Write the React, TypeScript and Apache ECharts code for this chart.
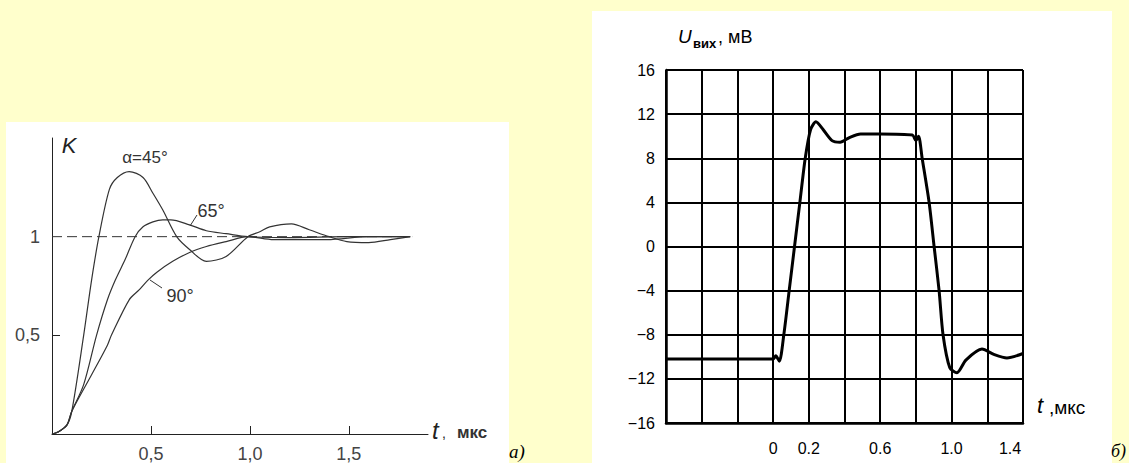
import React, { useEffect, useRef } from "react";
import * as echarts from "echarts";

// ---- Left chart (a): transient response K(t) for different angles ----
const t45 = [0, 0.03, 0.075, 0.1, 0.16, 0.2, 0.237, 0.29, 0.33, 0.39, 0.46, 0.51, 0.56, 0.63, 0.695, 0.78, 0.88, 0.99, 1.05, 1.1, 1.21, 1.3, 1.4, 1.49, 1.6, 1.71, 1.81];
const k45 = [0, 0.01, 0.045, 0.115, 0.5, 0.78, 1.0, 1.24, 1.3, 1.33, 1.3, 1.22, 1.135, 1.0, 0.935, 0.875, 0.9, 1.0, 1.025, 1.05, 1.065, 1.035, 1.0, 0.975, 0.97, 0.985, 1.0];
const t65 = [0, 0.03, 0.075, 0.1, 0.16, 0.225, 0.28, 0.32, 0.37, 0.42, 0.46, 0.51, 0.56, 0.6, 0.695, 0.78, 0.88, 0.99, 1.2, 1.5, 1.81];
const k65 = [0, 0.01, 0.045, 0.115, 0.25, 0.5, 0.68, 0.78, 0.885, 1.0, 1.05, 1.075, 1.085, 1.085, 1.06, 1.03, 1.015, 1.0, 0.995, 1.0, 1.0];
const t90 = [0, 0.03, 0.075, 0.1, 0.2, 0.28, 0.3, 0.39, 0.44, 0.485, 0.53, 0.61, 0.695, 0.78, 0.88, 0.99, 1.12, 1.39, 1.6, 1.81];
const k90 = [0, 0.01, 0.045, 0.115, 0.3, 0.45, 0.5, 0.68, 0.73, 0.78, 0.82, 0.875, 0.92, 0.95, 0.975, 1.0, 0.985, 0.985, 1.0, 1.0];
const leftXTickLabels = ["0,5", "1,0", "1,5"];
const leftYTickLabels = ["0,5", "1"];

// ---- Right chart (б): output voltage U(t) ----
const tOut = [-0.6, 0.0, 0.015, 0.035, 0.06, 0.09, 0.12, 0.15, 0.18, 0.21, 0.24, 0.28, 0.33, 0.375, 0.43, 0.49, 0.6, 0.78, 0.8, 0.815, 0.835, 0.874, 0.902, 0.93, 0.952, 0.99, 1.03, 1.08, 1.17, 1.24, 1.31, 1.4];
const uOut = [-10.2, -10.2, -9.9, -10.4, -8, -4, 0, 4, 8, 10.6, 11.3, 10.6, 9.6, 9.45, 9.9, 10.2, 10.2, 10.1, 9.6, 10.0, 8, 4, 0, -4, -8, -11, -11.45, -10.3, -9.3, -9.8, -10.1, -9.7];
const rightXTickLabels = ["0", "0.2", "0.6", "1.0", "1.4"];

const num = (s: string) => parseFloat(s.replace(",", "."));
const findLabel = (labels: string[], v: number) => {
  const l = labels.find((s) => Math.abs(num(s) - v) < 1e-6);
  return l ?? "";
};
const zip = (a: number[], b: number[]) => a.map((x, i) => [x, b[i]]);

export default function App() {
  const ref = useRef<HTMLDivElement>(null);
  useEffect(() => {
    if (!ref.current) return;
    const chart = echarts.init(ref.current, null, { renderer: "svg" });
    const sans = "Liberation Sans, Arial, sans-serif";
    chart.setOption({
      animation: false,
      backgroundColor: "#FFFFCC",
      grid: [
        { left: 52, top: 138, width: 376, height: 298, containLabel: false },
        { left: 666, top: 70, width: 357, height: 353, containLabel: false },
      ],
      xAxis: [
        {
          gridIndex: 0,
          type: "value",
          min: 0,
          max: 1.9,
          interval: 0.5,
          axisLine: { show: true, onZero: false, lineStyle: { color: "#222", width: 1 } },
          axisTick: { show: true, inside: true, length: 8, customValues: leftXTickLabels.map(num), lineStyle: { color: "#222" } },
          axisLabel: {
            customValues: leftXTickLabels.map(num),
            formatter: (v: number) => findLabel(leftXTickLabels, v),
            color: "#444",
            fontSize: 18,
            fontFamily: sans,
            margin: 11,
          },
          splitLine: { show: false },
        },
        {
          gridIndex: 1,
          type: "value",
          min: -0.6,
          max: 1.4,
          interval: 0.2,
          axisLine: { show: true, onZero: false, lineStyle: { color: "#000", width: 2.5 } },
          axisTick: { show: false },
          axisLabel: {
            customValues: rightXTickLabels.map(num),
            formatter: (v: number) => {
              const l = findLabel(rightXTickLabels, v);
              return l === "1.4" ? "{s|" + l + "}" : l;
            },
            rich: { s: { padding: [0, 26, 0, 0], fontSize: 16, color: "#000", fontFamily: sans } },
            color: "#000",
            fontSize: 16,
            fontFamily: sans,
            margin: 17,
          },
          splitLine: { show: true, lineStyle: { color: "#000", width: 2 } },
        },
      ],
      yAxis: [
        {
          gridIndex: 0,
          type: "value",
          min: 0,
          max: 1.5,
          interval: 0.5,
          axisLine: { show: true, onZero: false, lineStyle: { color: "#222", width: 1 } },
          axisTick: { show: true, inside: true, length: 8, customValues: [0.5], lineStyle: { color: "#222" } },
          axisLabel: {
            customValues: leftYTickLabels.map(num),
            formatter: (v: number) => findLabel(leftYTickLabels, v),
            color: "#444",
            fontSize: 18,
            fontFamily: sans,
            margin: 12,
          },
          splitLine: { show: false },
        },
        {
          gridIndex: 1,
          type: "value",
          min: -16,
          max: 16,
          interval: 4,
          axisLine: { show: true, onZero: false, lineStyle: { color: "#000", width: 2.5 } },
          axisTick: { show: false },
          axisLabel: {
            formatter: (v: number) => String(v).replace("-", "\u2212"),
            color: "#000",
            fontSize: 16,
            fontFamily: sans,
            margin: 11,
          },
          splitLine: { show: true, lineStyle: { color: "#000", width: 2 } },
        },
      ],
      series: [
        {
          type: "line",
          xAxisIndex: 0,
          yAxisIndex: 0,
          data: [[0, 1], [1.82, 1]],
          showSymbol: false,
          lineStyle: { color: "#333", width: 1, type: [10, 5] },
          z: 1,
        },
        {
          type: "line",
          xAxisIndex: 0,
          yAxisIndex: 0,
          data: zip(t45, k45),
          smooth: 0.3,
          showSymbol: false,
          lineStyle: { color: "#333", width: 1.2 },
        },
        {
          type: "line",
          xAxisIndex: 0,
          yAxisIndex: 0,
          data: zip(t65, k65),
          smooth: 0.3,
          showSymbol: false,
          lineStyle: { color: "#333", width: 1.2 },
        },
        {
          type: "line",
          xAxisIndex: 0,
          yAxisIndex: 0,
          data: zip(t90, k90),
          smooth: 0.3,
          showSymbol: false,
          lineStyle: { color: "#333", width: 1.2 },
        },
        {
          type: "line",
          xAxisIndex: 1,
          yAxisIndex: 1,
          data: zip(tOut, uOut),
          smooth: 0.25,
          showSymbol: false,
          lineStyle: { color: "#000", width: 3 },
          z: 5,
        },
      ],
      graphic: [
        { type: "rect", z: -10, shape: { x: 6, y: 122, width: 503, height: 341 }, style: { fill: "#fff" } },
        { type: "rect", z: -10, shape: { x: 592, y: 11, width: 520, height: 452 }, style: { fill: "#fff" } },
        // left annotations
        { type: "text", x: 69, y: 145, style: { text: "K", font: "italic 22px " + sans, fill: "#222", textAlign: "center", textVerticalAlign: "middle" } },
        { type: "text", x: 145, y: 157, style: { text: "\u03b1=45\u00b0", font: "17px " + sans, fill: "#333", textAlign: "center", textVerticalAlign: "middle" } },
        { type: "text", x: 211, y: 211, style: { text: "65\u00b0", font: "18px " + sans, fill: "#333", textAlign: "center", textVerticalAlign: "middle" } },
        { type: "text", x: 180, y: 296, style: { text: "90\u00b0", font: "18px " + sans, fill: "#333", textAlign: "center", textVerticalAlign: "middle" } },
        { type: "line", shape: { x1: 190, y1: 226, x2: 197, y2: 215 }, style: { stroke: "#333", lineWidth: 1 } },
        { type: "line", shape: { x1: 150, y1: 280, x2: 162, y2: 288 }, style: { stroke: "#333", lineWidth: 1 } },
        { type: "text", x: 432, y: 430, style: { text: "t", font: "italic 24px " + sans, fill: "#222", textAlign: "left", textVerticalAlign: "middle" } },
        { type: "text", x: 442, y: 433, style: { text: ",", font: "14px " + sans, fill: "#222", textAlign: "left", textVerticalAlign: "middle" } },
        { type: "text", x: 457, y: 432, style: { text: "мкс", font: "bold 17px " + sans, fill: "#333", textAlign: "left", textVerticalAlign: "middle" } },
        { type: "text", x: 509, y: 451, style: { text: "a)", font: "italic 19px Liberation Serif, serif", fill: "#000", textAlign: "left", textVerticalAlign: "middle" } },
        // right annotations
        { type: "text", x: 678, y: 36, style: { text: "U", font: "italic 19px " + sans, fill: "#000", textAlign: "left", textVerticalAlign: "middle" } },
        { type: "text", x: 693, y: 43, style: { text: "вих", font: "bold 13px " + sans, fill: "#000", textAlign: "left", textVerticalAlign: "middle" } },
        { type: "text", x: 718, y: 37, style: { text: ", мВ", font: "18px " + sans, fill: "#000", textAlign: "left", textVerticalAlign: "middle" } },
        { type: "text", x: 1037, y: 405, style: { text: "t", font: "italic 22px " + sans, fill: "#000", textAlign: "left", textVerticalAlign: "middle" } },
        { type: "text", x: 1049, y: 407, style: { text: ",мкс", font: "19px " + sans, fill: "#000", textAlign: "left", textVerticalAlign: "middle" } },
        { type: "text", x: 1111, y: 451, style: { text: "б)", font: "italic 18px Liberation Serif, serif", fill: "#000", textAlign: "left", textVerticalAlign: "middle" } },
      ],
    });
    return () => chart.dispose();
  }, []);
  return (
    <div
      ref={ref}
      style={{ position: "fixed", left: 0, top: 0, width: 1129, height: 463 }}
    />
  );
}
